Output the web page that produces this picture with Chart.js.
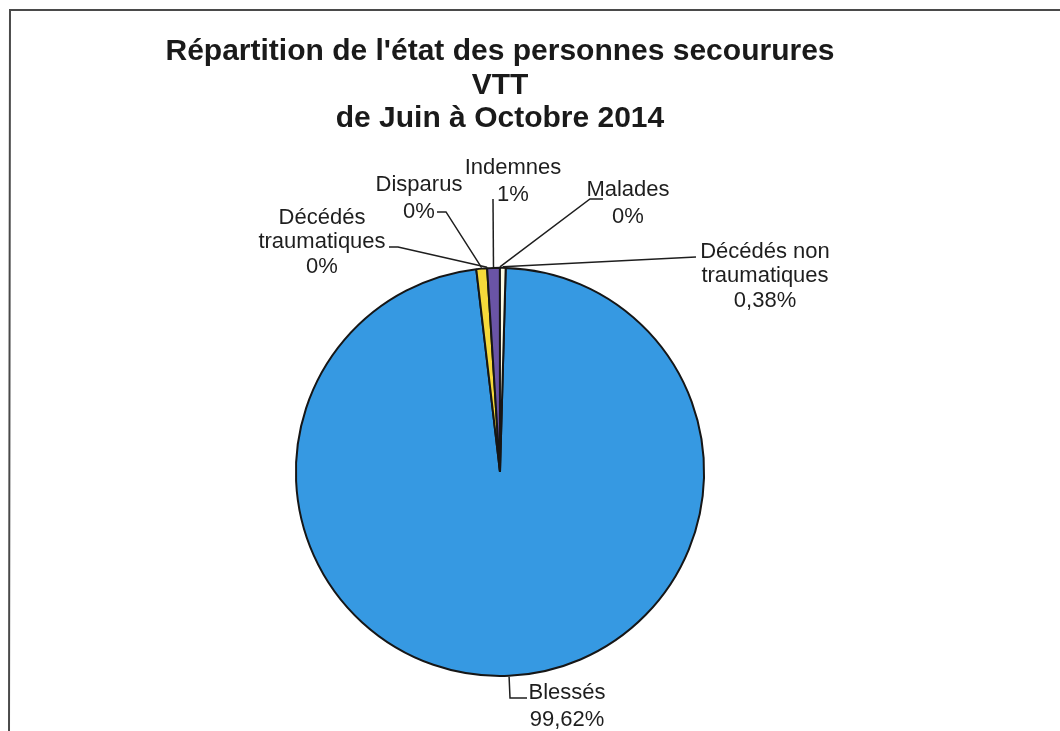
<!DOCTYPE html>
<html lang="fr">
<head>
  <meta charset="UTF-8" />
  <title>Répartition de l'état des personnes secourures VTT</title>
  <script src="https://cdn.jsdelivr.net/npm/chart.js"></script>
  <style>
    body {
      margin: 0;
      background: #fff;
    }
    #wrap {
      position: relative;
      width: 1060px;
      height: 731px;
      overflow: hidden;
    }
  </style>
</head>
<body>

<div id="wrap">
  <canvas id="pieChart" width="1060" height="731"></canvas>
</div>

<script>
  // données
  const categories = ['Blessés', 'Disparus', 'Décédés traumatiques', 'Indemnes', 'Malades', 'Décédés non traumatiques'];
  const values = [97.7, 0.85, 0, 1.0, 0, 0.45];
  const pctLabels = ['99,62%', '0%', '0%', '1%', '0%', '0,38%'];
  const labelLines = [
    ['Blessés'],
    ['Disparus'],
    ['Décédés', 'traumatiques'],
    ['Indemnes'],
    ['Malades'],
    ['Décédés non', 'traumatiques']
  ];
  const colors = ['#3699e2', '#f6d93a', '#d9d9d9', '#6a54a6', '#c0c0c0', '#fcfae4'];

  // placement des étiquettes, relatif au centre du camembert
  const labelPos = [
    { dx: 67, dy: 221, leader: [[10, 226], [27, 226]] },
    { dx: -81, dy: -287, leader: [[-54, -260], [-63, -260]] },
    { dx: -178, dy: -254, leader: [[-102, -225], [-111, -225]] },
    { dx: 13, dy: -304, leader: [[-7, -273]] },
    { dx: 128, dy: -282, leader: [[90, -273], [103, -273]] },
    { dx: 265, dy: -220, leader: [[196, -215]] }
  ];

  const frame = {
    id: 'frame',
    beforeDraw(chart) {
      const c = chart.ctx;
      c.save();
      c.strokeStyle = '#4a4a4a';
      c.lineWidth = 2;
      c.beginPath();
      c.moveTo(1060, 10);
      c.lineTo(10, 10);
      c.lineTo(9, 731);
      c.stroke();
      c.restore();
    }
  };

  const pieLabels = {
    id: 'pieLabels',
    afterDraw(chart) {
      const c = chart.ctx;
      const arcs = chart.getDatasetMeta(0).data;
      c.save();
      c.font = '22px "Liberation Sans", Arial, sans-serif';
      c.fillStyle = '#1e1e1e';
      c.strokeStyle = '#1e1e1e';
      c.lineWidth = 1.5;
      c.textAlign = 'center';
      c.textBaseline = 'middle';
      arcs.forEach((arc, i) => {
        const p = arc.getProps(['x', 'y', 'startAngle', 'endAngle', 'outerRadius'], true);
        const mid = (p.startAngle + p.endAngle) / 2;
        const r = p.outerRadius + 1;
        const pos = labelPos[i];
        c.beginPath();
        c.moveTo(p.x + Math.cos(mid) * r, p.y + Math.sin(mid) * r);
        pos.leader.forEach(pt => c.lineTo(p.x + pt[0], p.y + pt[1]));
        c.stroke();
        const lines = labelLines[i].concat([pctLabels[i]]);
        const lh = lines.length > 2 ? 24.5 : 27;
        lines.forEach((t, k) => {
          c.fillText(t, p.x + pos.dx, p.y + pos.dy + k * lh);
        });
      });
      c.restore();
    }
  };

  const ctx = document.getElementById('pieChart').getContext('2d');
  new Chart(ctx, {
    type: 'pie',
    data: {
      labels: categories,
      datasets: [{
        data: values,
        backgroundColor: colors,
        borderColor: '#161616',
        borderWidth: 2
      }]
    },
    options: {
      responsive: false,
      animation: false,
      rotation: 1.6,
      layout: {
        padding: { left: 90, right: 150, top: 0, bottom: 54 }
      },
      plugins: {
        legend: { display: false },
        tooltip: { enabled: false },
        title: {
          display: true,
          fullSize: false,
          text: ["Répartition de l'état des personnes secourures", 'VTT', 'de Juin à Octobre 2014'],
          color: '#1a1a1a',
          font: { family: '"Liberation Sans", Arial, sans-serif', size: 30, weight: 'bold', lineHeight: 1.12 },
          padding: { top: 35, bottom: 131 }
        }
      }
    },
    plugins: [frame, pieLabels]
  });
</script>

</body>
</html>
